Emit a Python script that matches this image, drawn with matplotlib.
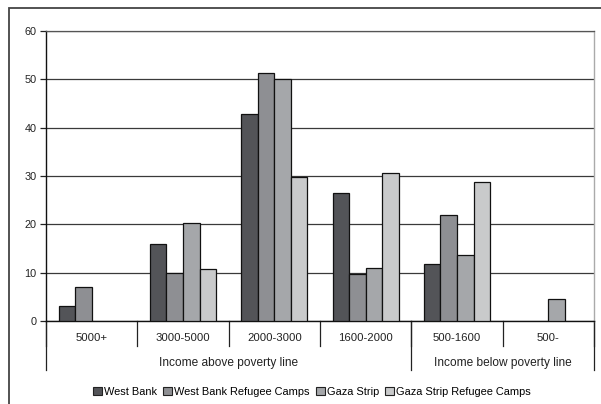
import matplotlib
matplotlib.use("Agg")
import matplotlib.pyplot as plt
from matplotlib.patches import Rectangle, Patch
import numpy as np

categories = ["5000+", "3000-5000", "2000-3000", "1600-2000", "500-1600", "500-"]
groups = ["Income above poverty line", "Income below poverty line"]
group_spans = [(0, 4), (4, 6)]
series_names = ["West Bank", "West Bank Refugee Camps", "Gaza Strip", "Gaza Strip Refugee Camps"]
west_bank = [3.1, 15.9, 42.9, 26.4, 11.7, 0]
west_bank_camps = [7.1, 9.9, 51.3, 9.7, 22.0, 0]
gaza_strip = [0, 20.2, 50.0, 11.0, 13.6, 4.6]
gaza_camps = [0, 10.7, 29.8, 30.6, 28.8, 0]
yticks = [0, 10, 20, 30, 40, 50, 60]

colors = ["#535458", "#8e8f93", "#a5a7aa", "#c9cacb"]
series = [west_bank, west_bank_camps, gaza_strip, gaza_camps]

plt.rcParams['font.family'] = ['Liberation Sans', 'DejaVu Sans']
fig = plt.figure(figsize=(6.01, 4.04), dpi=100)
ax = fig.add_axes([46/601, 1-321/404, (594-46)/601, 290/404])

bw = 0.181
x = np.arange(len(categories)) + 0.5
for j, (vals, c) in enumerate(zip(series, colors)):
    vals = np.asarray(vals, dtype=float)
    m = vals > 0
    ax.bar((x + (j-1.5)*bw)[m], vals[m], width=bw, color=c, edgecolor="#111111",
           linewidth=0.9, zorder=3, label=series_names[j])

ax.set_xlim(0, 6)
ax.set_ylim(0, 60)
ax.set_yticks(yticks)
ax.set_yticklabels([str(v) for v in yticks], fontsize=7.8, color="#222222")
ax.tick_params(axis='y', length=4, width=0.9, color="#222222", pad=3)
ax.set_xticks([])
ax.yaxis.grid(True, color="#3a3a3a", linewidth=0.9, zorder=0)
ax.set_axisbelow(True)
ax.spines['left'].set_color("#111111")
ax.spines['left'].set_linewidth(1.0)
ax.spines['bottom'].set_color("#111111")
ax.spines['bottom'].set_linewidth(1.0)
ax.spines['right'].set_color("#aaaaaa")
ax.spines['right'].set_linewidth(1.0)
ax.spines['top'].set_color("#555555")
ax.spines['top'].set_linewidth(0.9)

tr = ax.get_xaxis_transform()
for b in range(0, 7):
    ax.plot([b, b], [0, -25/290], transform=tr, color="#222222", lw=0.9, clip_on=False)
for i, c in enumerate(categories):
    ax.text(i + 0.5, -17/290, c, transform=tr, ha='center', va='center', fontsize=8.2, color="#222222")
for b in [0, 4, 6]:
    ax.plot([b, b], [0, -49/290], transform=tr, color="#222222", lw=0.9, clip_on=False)
for g, (s, e) in zip(groups, group_spans):
    ax.text((s + e)/2, -42/290, g, transform=tr, ha='center', va='center', fontsize=8.6, color="#222222")

handles = [Patch(facecolor=c, edgecolor="#222222", linewidth=0.8) for c in colors]
fig.legend(handles, series_names, loc='center', bbox_to_anchor=(312/601, 1-392/404), ncol=4,
           frameon=False, fontsize=7.9, handlelength=0.8, handleheight=0.8, handletextpad=0.2,
           columnspacing=0.55, borderpad=0)

fig.add_artist(Rectangle((9/601, -0.1), 1.2, 1.1 - 8/404, transform=fig.transFigure,
                         fill=False, edgecolor="#444444", linewidth=1.3))

fig.savefig("out.png", dpi=100)
